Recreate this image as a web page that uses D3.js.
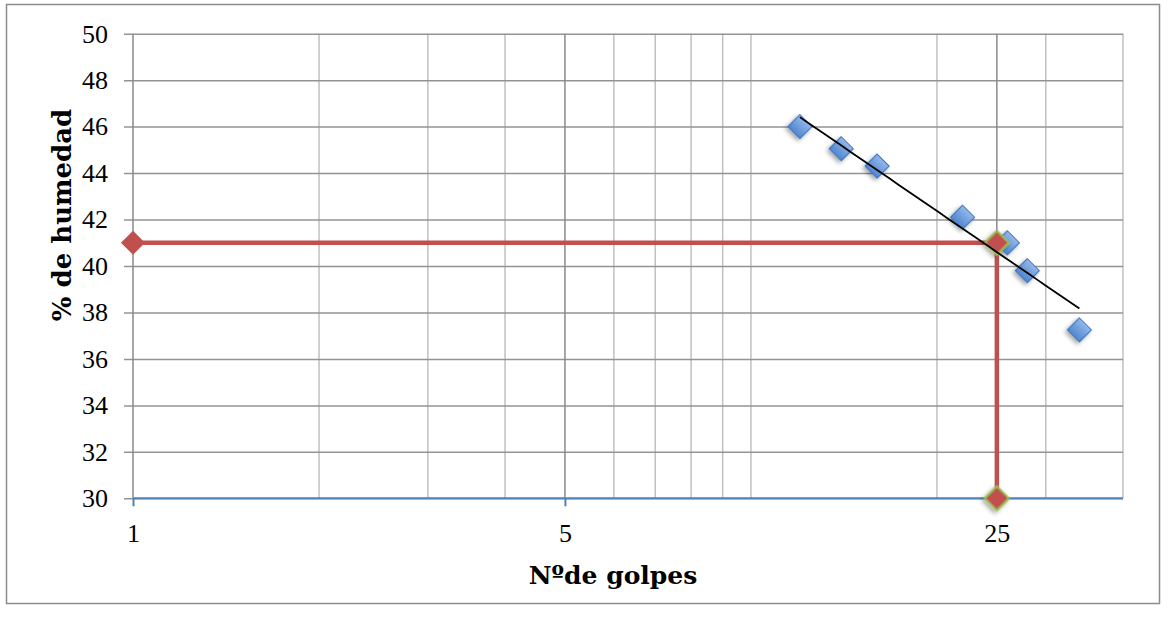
<!DOCTYPE html>
<html>
<head>
<meta charset="utf-8">
<script src="https://cdn.jsdelivr.net/npm/d3@7"></script>
<style>
  html, body { margin: 0; padding: 0; background: #fff; }
  svg { display: block; }
</style>
</head>
<body>
<svg id="chart" width="1168" height="619"></svg>
<script>
// ---- data ----
const golpes = [12, 14, 16, 22, 26, 28, 34];
const humedad = [46.0, 45.05, 44.3, 42.1, 41.0, 39.8, 37.25];
const refX = [1, 25, 25];
const refY = [41, 41, 30];
const xTickValues = [1, 5, 25];
const xMinorGrid = [2, 3, 4, 6, 7, 8, 9, 10, 20, 30, 40];
const yTickValues = [30, 32, 34, 36, 38, 40, 42, 44, 46, 48, 50];
const xTitle = "Nºde golpes";
const yTitle = "% de humedad";

// ---- layout ----
const svg = d3.select("#chart");
const W = 1168, H = 619;
const pLeft = 133, pRight = 1123, pTop = 33.7, pBottom = 498.3;
const fontTick = "'Liberation Serif', 'Times New Roman', serif";
const fontTitle = "'DejaVu Serif', 'Liberation Serif', serif";

svg.append("rect").attr("width", W).attr("height", H).attr("fill", "#fff");
svg.append("rect").attr("x", 6.5).attr("y", 4.5).attr("width", 1153).attr("height", 599)
  .attr("fill", "none").attr("stroke", "#8c8c8c").attr("stroke-width", 1.5);

const x = d3.scaleLog().base(5).domain([1, 40]).range([pLeft, pRight]);
const y = d3.scaleLinear().domain([30, 50]).range([pBottom, pTop]);

const defs = svg.append("defs");
const grad = defs.append("linearGradient").attr("id", "blueGrad")
  .attr("x1", "0").attr("y1", "0").attr("x2", "0").attr("y2", "1");
grad.append("stop").attr("offset", "0%").attr("stop-color", "#93b8ea");
grad.append("stop").attr("offset", "100%").attr("stop-color", "#4f86cf");
const shadow = defs.append("filter").attr("id", "shadow")
  .attr("x", "-50%").attr("y", "-50%").attr("width", "200%").attr("height", "200%");
shadow.append("feDropShadow").attr("dx", 0).attr("dy", 3).attr("stdDeviation", 2.2)
  .attr("flood-color", "#000").attr("flood-opacity", 0.35);

// vertical minor gridlines
svg.append("g").selectAll("line").data(xMinorGrid).join("line")
  .attr("x1", d => x(d)).attr("x2", d => x(d))
  .attr("y1", pTop).attr("y2", pBottom)
  .attr("stroke", "#c0c0c0").attr("stroke-width", 1.5);
// horizontal gridlines via axis
const yAxis = d3.axisLeft(y).tickValues(yTickValues).tickSize(-(pRight - pLeft)).tickPadding(25)
  .tickFormat(d3.format("d"));
const gy = svg.append("g").attr("transform", `translate(${pLeft},0)`).call(yAxis);
gy.select(".domain").remove();
gy.selectAll(".tick line").attr("stroke", "#939393").attr("stroke-width", 1.5)
  .attr("x1", -9);
gy.selectAll(".tick text").attr("font-family", fontTick).attr("font-size", 26)
  .attr("fill", "#000");
// major vertical gridlines
svg.append("g").selectAll("line").data(xTickValues).join("line")
  .attr("x1", d => x(d)).attr("x2", d => x(d))
  .attr("y1", pTop).attr("y2", pBottom)
  .attr("stroke", "#8a8a8a").attr("stroke-width", 1.5);

// x axis
const xAxis = d3.axisBottom(x).tickValues(xTickValues).tickSize(8).tickPadding(17)
  .tickFormat(d3.format("d"));
const gx = svg.append("g").attr("transform", `translate(0,${pBottom})`).call(xAxis);
gx.select(".domain").attr("stroke", "#4f81bd").attr("stroke-width", 2)
  .attr("d", `M${pLeft},0H${pRight}`);
gx.selectAll(".tick line").attr("stroke", "#4f81bd").attr("stroke-width", 2);
gx.selectAll(".tick text").attr("font-family", fontTick).attr("font-size", 26).attr("fill", "#000");

// blue diamond markers
const diamond = d3.symbol().type(d3.symbolSquare).size(290);
svg.append("g").selectAll("path").data(golpes.map((g, i) => [g, humedad[i]])).join("path")
  .attr("d", diamond)
  .attr("transform", d => `translate(${x(d[0])},${y(d[1])}) rotate(45)`)
  .attr("fill", "url(#blueGrad)").attr("stroke", "#3f74bd").attr("stroke-width", 1.2)
  .attr("filter", "url(#shadow)");

// red reference series
const refPts = refX.map((v, i) => [v, refY[i]]);
svg.append("path").datum(refPts)
  .attr("d", d3.line().x(d => x(d[0])).y(d => y(d[1])))
  .attr("fill", "none").attr("stroke", "#c0504d").attr("stroke-width", 4.5);
svg.append("g").selectAll("path").data(refPts).join("path")
  .attr("d", d3.symbol().type(d3.symbolSquare).size(290))
  .attr("transform", d => `translate(${x(d[0])},${y(d[1])}) rotate(45)`)
  .attr("fill", "#c0504d")
  .attr("stroke", (d, i) => i === 0 ? "none" : "#9bbb59")
  .attr("stroke-width", 2.2)
  .attr("filter", (d, i) => i === 0 ? null : "url(#shadow)");

// logarithmic trendline (least squares y = a + b ln x)
const lx = golpes.map(Math.log);
const mx = d3.mean(lx), my = d3.mean(humedad);
const bCoef = d3.sum(lx.map((v, i) => (v - mx) * (humedad[i] - my))) / d3.sum(lx.map(v => (v - mx) ** 2));
const aCoef = my - bCoef * mx;
const xs = d3.range(0, 41).map(i => d3.min(golpes) * Math.pow(d3.max(golpes) / d3.min(golpes), i / 40));
svg.append("path").datum(xs)
  .attr("d", d3.line().x(d => x(d)).y(d => y(aCoef + bCoef * Math.log(d))))
  .attr("fill", "none").attr("stroke", "#000").attr("stroke-width", 1.8);

// titles
svg.append("text").attr("x", 613).attr("y", 584)
  .attr("text-anchor", "middle").attr("font-family", fontTitle).attr("font-weight", "bold")
  .attr("font-size", 25).attr("fill", "#000").text(xTitle);
svg.append("text").attr("transform", `translate(71,215) rotate(-90)`)
  .attr("text-anchor", "middle").attr("font-family", fontTitle).attr("font-weight", "bold")
  .attr("font-size", 26).attr("fill", "#000").text(yTitle);
</script>
</body>
</html>
